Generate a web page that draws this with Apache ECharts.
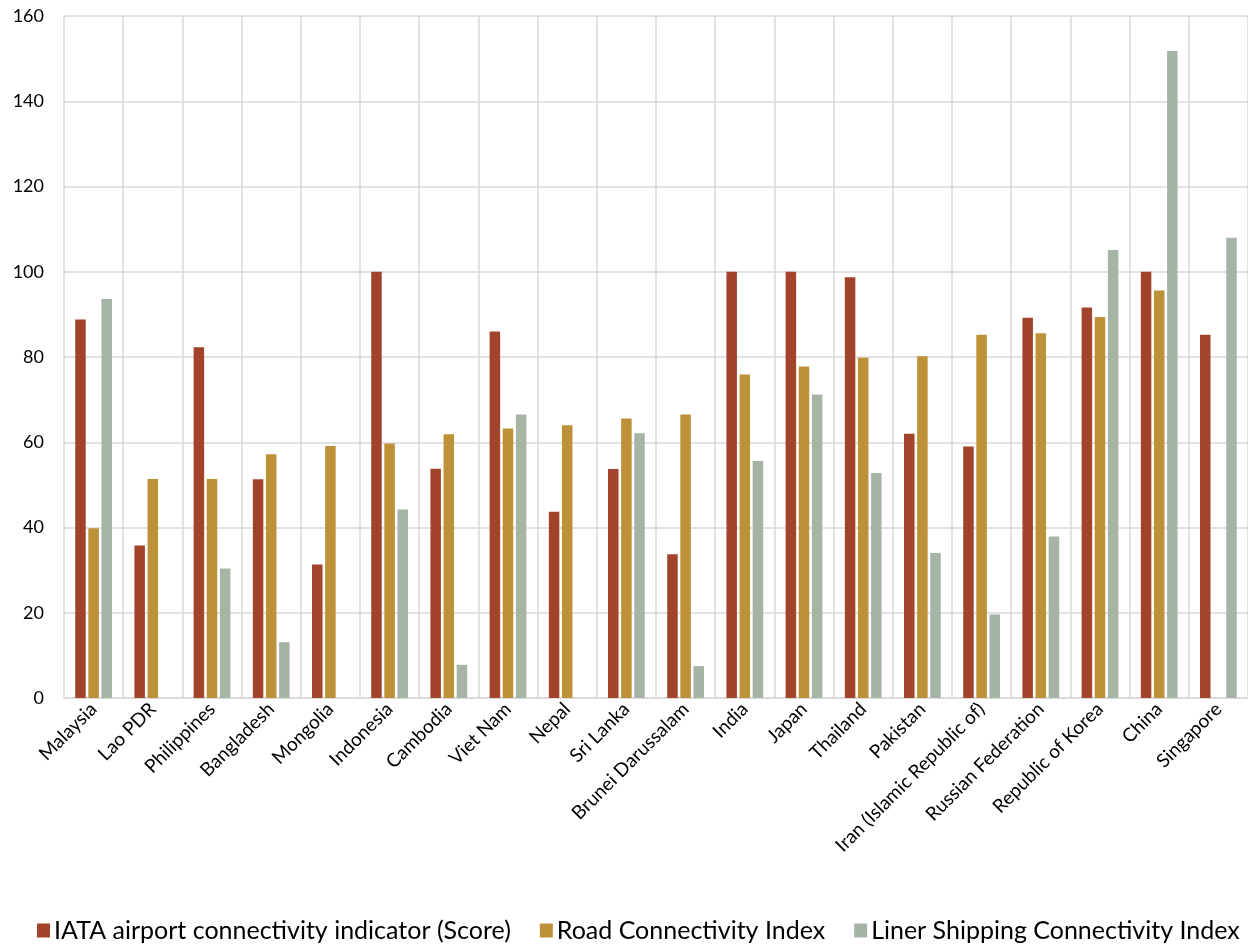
<!DOCTYPE html>
<html><head><meta charset="utf-8">
<script src="https://cdn.jsdelivr.net/npm/echarts@6/dist/echarts.min.js"></script>
<style>html,body{margin:0;padding:0;background:#fff}#c{width:1248px;height:947px}</style>
</head><body><div id="c"></div>
<script>
const categories = ["Malaysia","Lao PDR","Philippines","Bangladesh","Mongolia","Indonesia","Cambodia","Viet Nam","Nepal","Sri Lanka","Brunei Darussalam","India","Japan","Thailand","Pakistan","Iran (Islamic Republic of)","Russian Federation","Republic of Korea","China","Singapore"];
const iataScore = [88.8,35.8,82.3,51.3,31.3,100,53.8,86.0,43.7,53.7,33.7,100,100,98.7,62.0,59.0,89.2,91.6,100,85.2];
const roadIndex = [39.8,51.4,51.4,57.2,59.1,59.7,61.9,63.2,64.0,65.6,66.5,75.9,77.8,79.8,80.2,85.2,85.6,89.4,95.6,null];
const linerIndex = [93.6,null,30.4,13.1,null,44.2,7.8,66.5,null,62.1,7.5,55.6,71.2,52.8,34.0,19.6,37.9,105.1,151.8,108.0];
const yTicks = [0,20,40,60,80,100,120,140,160];
const seriesNames = ["IATA airport connectivity indicator (Score)","Road Connectivity Index","Liner Shipping Connectivity Index"];
const colors = ["#A2432B","#BD9138","#A6B4A6"];

const chart = echarts.init(document.getElementById('c'), null, {renderer:'canvas'});
const font = 'Lato, "Open Sans", sans-serif';
chart.setOption({
  animation:false,
  color:colors,
  textStyle:{fontFamily:font},
  grid:{left:64,right:0,top:16,bottom:249,containLabel:false},
  legend:{
    bottom:4,left:37,width:1211,padding:0,itemWidth:13,itemHeight:14,itemGap:29,icon:'rect',
    textStyle:{fontSize:25,color:'#000',fontFamily:font,padding:[0,0,0,-1]},
    data:seriesNames
  },
  xAxis:{
    type:'category',data:categories,boundaryGap:true,
    axisLine:{lineStyle:{color:'#D9D9D9',width:1.5}},
    axisTick:{show:false},
    splitLine:{show:true,lineStyle:{color:'#D9D9D9',width:1.5}},
    axisLabel:{rotate:45,interval:0,fontSize:19,color:'#000',margin:8,fontFamily:font}
  },
  yAxis:{
    type:'value',min:yTicks[0],max:yTicks[yTicks.length-1],interval:20,
    axisLine:{show:false},axisTick:{show:false},
    splitLine:{lineStyle:{color:'#D9D9D9',width:1.5}},
    axisLabel:{fontSize:18,color:'#000',margin:20,fontFamily:font}
  },
  series:[
    {name:seriesNames[0],type:'bar',data:iataScore,barWidth:10.5,barGap:'25%'},
    {name:seriesNames[1],type:'bar',data:roadIndex,barWidth:10.5,barGap:'25%'},
    {name:seriesNames[2],type:'bar',data:linerIndex,barWidth:10.5,barGap:'25%'}
  ]
});
</script></body></html>
